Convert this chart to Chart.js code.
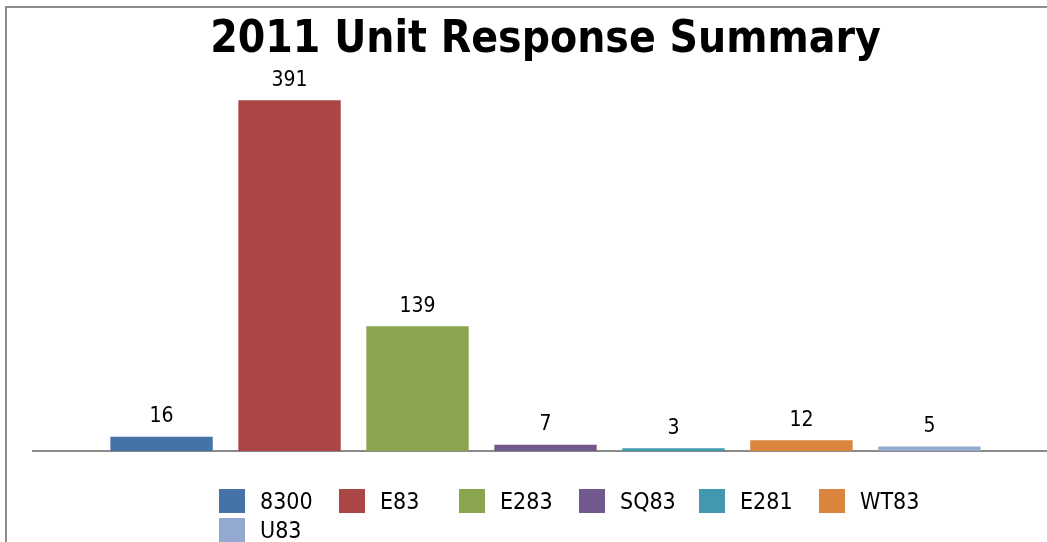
<!DOCTYPE html>
<html>
<head>
<meta charset="utf-8">
<script src="https://cdn.jsdelivr.net/npm/chart.js@4/dist/chart.umd.min.js"></script>
<style>
html,body{margin:0;padding:0;overflow:hidden;background:#fff;width:1047px;height:542px}
#frame{position:absolute;left:5px;top:6px;width:1100px;height:600px;border-left:2px solid #8c8c8c;border-top:2px solid #8c8c8c}
#wrap{position:absolute;left:0;top:0;width:1060px;height:542px}
#legend{position:absolute;left:219px;top:489px;display:grid;grid-template-columns:repeat(6,120px);row-gap:5px;font-family:"DejaVu Sans Condensed","DejaVu Sans",sans-serif;font-size:23px;color:#000}
#legend div{display:flex;align-items:center;height:24px;white-space:nowrap}
#legend span{display:inline-block;width:26px;height:24px;margin-right:15px}
</style>
</head>
<body>
<div id="frame"></div>
<div id="wrap"><canvas id="grafico"></canvas></div>
<div id="legend"></div>
<script>
let units = ["8300","E83","E283","SQ83","E281","WT83","U83"]
let responses = [16,391,139,7,3,12,5]
let colors = ["#4572A7","#AA4643","#89A54E","#71588F","#4198AF","#DB843D","#93A9CF"]

let FONT = '"DejaVu Sans Condensed","DejaVu Sans",sans-serif'

let datasets = units.map((u,i)=>({
label:u,
data:[responses[i]],
backgroundColor:colors[i],
categoryPercentage:0.874,
barPercentage:0.8
}))

let valueLabels = {
id:"valueLabels",
afterDatasetsDraw(chart){
let ctx = chart.ctx
ctx.save()
ctx.font = "21px " + FONT
ctx.fillStyle = "#000"
ctx.textAlign = "center"
ctx.textBaseline = "middle"
chart.data.datasets.forEach((ds,i)=>{
chart.getDatasetMeta(i).data.forEach((bar,j)=>{
ctx.fillText(ds.data[j], bar.x, bar.y - 20)
})
})
ctx.restore()
}
}

let chart = new Chart(document.getElementById("grafico"),{
type:"bar",
data:{labels:["2011"],datasets:datasets},
options:{
responsive:true,
maintainAspectRatio:false,
animation:false,
layout:{padding:{left:33,right:2,top:0,bottom:83}},
plugins:{
legend:{display:false},
tooltip:{enabled:false},
title:{
display:true,
text:"2011 Unit Response Summary",
color:"#000",
font:{family:FONT,size:44,weight:"bold"},
padding:{top:14,bottom:3}
}
},
scales:{
x:{
ticks:{display:false},
grid:{display:false},
border:{display:true,color:"#8a8a8a",width:2}
},
y:{display:false,min:0,max:425}
}
},
plugins:[valueLabels]
})

let legend = document.getElementById("legend")
units.forEach((u,i)=>{
let item = document.createElement("div")
item.innerHTML = `<span style="background:${colors[i]}"></span>${u}`
legend.appendChild(item)
})
</script>
</body>
</html>
